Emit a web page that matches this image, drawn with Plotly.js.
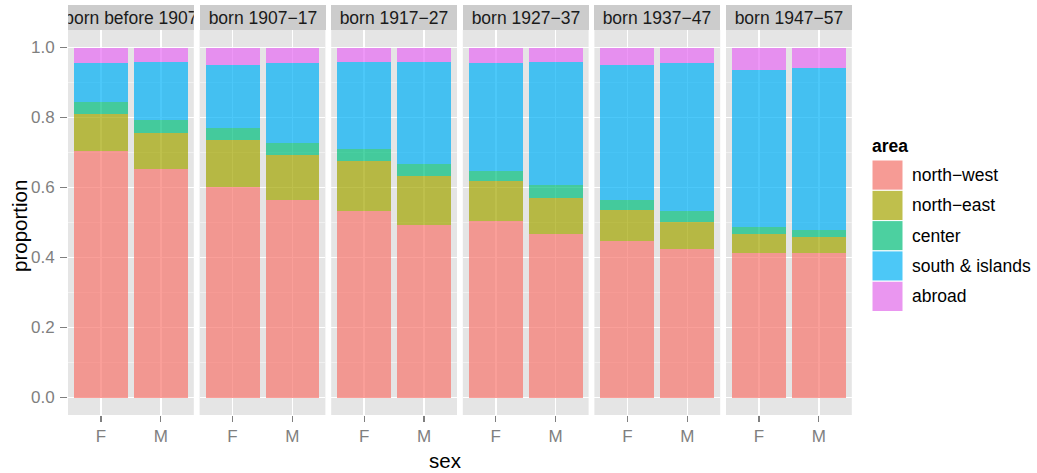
<!DOCTYPE html>
<html>
<head>
<meta charset="utf-8">
<script src="https://cdn.plot.ly/plotly-3.0.1.min.js"></script>
<style>html,body{margin:0;padding:0;background:#fff;}#chart{width:1037px;height:473px;}</style>
</head>
<body>
<div id="chart"></div>
<script>
// ---- data ----
const cohorts = ['born before 1907', 'born 1907\u221217', 'born 1917\u221227', 'born 1927\u221237', 'born 1937\u221247', 'born 1947\u221257'];
const sexes = ['F', 'M'];
const areas = ['north\u2212west', 'north\u2212east', 'center', 'south & islands', 'abroad'];

// proportion of each area, per cohort, for females (F) and males (M)
const northWestF = [0.705, 0.601, 0.534, 0.504, 0.446, 0.414];
const northWestM = [0.653, 0.565, 0.494, 0.466, 0.424, 0.412];
const northEastF = [0.104, 0.134, 0.141, 0.114, 0.089, 0.053];
const northEastM = [0.102, 0.127, 0.138, 0.105, 0.077, 0.047];
const centerF    = [0.034, 0.034, 0.034, 0.030, 0.030, 0.020];
const centerM    = [0.039, 0.036, 0.036, 0.035, 0.032, 0.020];
const southF     = [0.114, 0.182, 0.249, 0.309, 0.384, 0.449];
const southM     = [0.166, 0.228, 0.292, 0.354, 0.423, 0.462];
const abroadF    = [0.043, 0.049, 0.042, 0.043, 0.051, 0.064];
const abroadM    = [0.040, 0.044, 0.040, 0.040, 0.044, 0.059];

const yTicks = [0, 0.2, 0.4, 0.6, 0.8, 1.0];
const yTickText = ['0.0', '0.2', '0.4', '0.6', '0.8', '1.0'];

// ---- styling ----
const seriesF = [northWestF, northEastF, centerF, southF, abroadF];
const seriesM = [northWestM, northEastM, centerM, southM, abroadM];
const colors = ['#F8766D', '#A3A500', '#00BF7D', '#00B0F6', '#E76BF3'];
const keyColors = ['#F69B95', '#BFBF4C', '#4CD0A0', '#4CC8F7', '#EA96F0'];
const FONT = 'Liberation Sans, Arial, Helvetica, sans-serif';
const W = 1037, H = 473;
const px = x => x / W;
const py = y => 1 - y / H;

const panelLeft = 68, panelW = 125.8, panelStep = 131.6;
const panelTop = 30, panelBottom = 415;

const traces = [];
const layout = {
  width: W, height: H,
  margin: {l: 0, r: 0, t: 0, b: 0},
  paper_bgcolor: '#FFFFFF',
  plot_bgcolor: '#E5E5E5',
  showlegend: false,
  barmode: 'stack',
  bargap: 0.1,
  font: {family: FONT, color: '#7F7F7F'},
  annotations: [],
  shapes: []
};

cohorts.forEach((c, i) => {
  const k = i === 0 ? '' : String(i + 1);
  const xa = 'x' + k, ya = 'y' + k;
  areas.forEach((a, j) => {
    traces.push({
      type: 'bar',
      name: a,
      x: sexes,
      y: [seriesF[j][i], seriesM[j][i]],
      xaxis: xa, yaxis: ya,
      marker: {color: colors[j], opacity: 0.7, line: {width: 0}},
      hoverinfo: 'name+y'
    });
  });
  const x0 = panelLeft + i * panelStep;
  layout['xaxis' + k] = {
    domain: [px(x0), px(x0 + panelW)],
    anchor: ya,
    type: 'category',
    categoryarray: sexes,
    range: [-0.55, 1.55],
    showgrid: true, gridcolor: '#FFFFFF', gridwidth: 1.5,
    zeroline: false, showline: false,
    ticks: 'outside', ticklen: 6, tickwidth: 1.2, tickcolor: '#7F7F7F',
    tickfont: {family: FONT, size: 17, color: '#7F7F7F'},
    fixedrange: true
  };
  layout['yaxis' + k] = {
    domain: [py(panelBottom), py(panelTop)],
    anchor: xa,
    range: [-0.05, 1.05],
    tickvals: yTicks,
    ticktext: yTickText,
    showgrid: true, gridcolor: '#FFFFFF', gridwidth: 1.5,
    minor: {dtick: 0.1, tick0: 0, showgrid: true, gridcolor: '#F2F2F2', gridwidth: 0.8, ticks: ''},
    zeroline: false, showline: false,
    showticklabels: i === 0,
    ticks: i === 0 ? 'outside' : '',
    ticklen: 7, tickwidth: 1.2, tickcolor: '#7F7F7F',
    ticklabelstandoff: 2,
    tickfont: {family: FONT, size: 17, color: '#7F7F7F'},
    fixedrange: true
  };
  if (i > 0) layout['yaxis' + k].matches = 'y';
  // facet strip
  layout.annotations.push({
    xref: 'paper', yref: 'paper',
    x: px(x0 + panelW / 2), y: py(17.5),
    xanchor: 'center', yanchor: 'middle',
    width: panelW, height: 25,
    bgcolor: '#CCCCCC', borderpad: 0, borderwidth: 0,
    showarrow: false,
    text: c,
    font: {family: FONT, size: 17.5, color: '#1A1A1A'}
  });
});

// axis titles
layout.annotations.push({
  xref: 'paper', yref: 'paper', x: px(445), y: py(460),
  xanchor: 'center', yanchor: 'middle', showarrow: false,
  text: 'sex', font: {family: FONT, size: 20.5, color: '#000000'}
});
layout.annotations.push({
  xref: 'paper', yref: 'paper', x: px(19), y: py(226),
  xanchor: 'center', yanchor: 'middle', showarrow: false, textangle: -90,
  text: 'proportion', font: {family: FONT, size: 20.5, color: '#000000'}
});

// legend (built from the area names and colours)
layout.annotations.push({
  xref: 'paper', yref: 'paper', x: px(870), y: py(146),
  xanchor: 'left', yanchor: 'middle', showarrow: false,
  text: '<b>area</b>', font: {family: FONT, size: 17.5, color: '#000000'}
});
const keyTop = 160, keyH = 30.3, keyX0 = 872, keyX1 = 903;
areas.forEach((a, j) => {
  const y0 = keyTop + j * keyH;
  layout.shapes.push({
    type: 'rect', xref: 'paper', yref: 'paper',
    x0: px(keyX0), x1: px(keyX1), y0: py(y0), y1: py(y0 + keyH),
    fillcolor: keyColors[j], line: {color: '#FFFFFF', width: 1}
  });
  layout.annotations.push({
    xref: 'paper', yref: 'paper', x: px(910), y: py(y0 + keyH / 2),
    xanchor: 'left', yanchor: 'middle', showarrow: false,
    text: a, font: {family: FONT, size: 17.5, color: '#000000'}
  });
});

Plotly.newPlot('chart', traces, layout, {displayModeBar: false, staticPlot: true});
</script>
</body>
</html>
